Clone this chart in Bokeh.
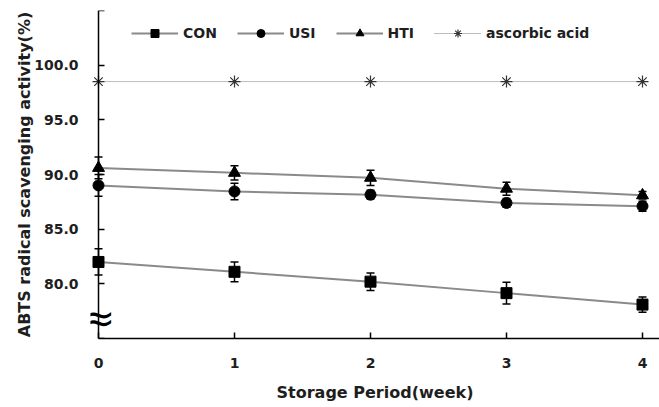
from bokeh.plotting import figure
from bokeh.models import (ColumnDataSource, Range1d, FixedTicker, Whisker, TeeHead,
                          Legend, LegendItem, Label, LinearAxis)
from bokeh.embed import file_html
from bokeh.resources import INLINE

# ---- data ----
weeks = [0, 1, 2, 3, 4]
con = [82.0, 81.1, 80.2, 79.15, 78.1]
con_err = [1.2, 0.9, 0.8, 1.0, 0.7]
usi = [89.0, 88.45, 88.15, 87.4, 87.1]
usi_err = [1.0, 0.75, 0.4, 0.4, 0.45]
hti = [90.6, 90.15, 89.7, 88.7, 88.1]
hti_err = [1.0, 0.65, 0.7, 0.6, 0.35]
ascorbic = [98.5, 98.5, 98.5, 98.5, 98.5]

y_ticks = [75, 80, 85, 90, 95, 100, 105]
y_tick_labels = ["", "80.0", "85.0", "90.0", "95.0", "100.0", ""]
x_ticks = [0, 1, 2, 3, 4]
x_tick_labels = ["0", "1", "2", "3", "4"]
series_names = ["CON", "USI", "HTI", "ascorbic acid"]

FONT = "DejaVu Sans"
TXT = "#1e1e1e"

p = figure(width=659, height=407, output_backend="svg", toolbar_location=None,
           x_range=Range1d(-0.0588, 4.125), y_range=Range1d(75, 105),
           min_border_left=90, min_border_right=0, min_border_top=10, min_border_bottom=69)
p.outline_line_color = None
p.xgrid.visible = False
p.ygrid.visible = False
p.background_fill_color = "white"

# x axis
xa = p.xaxis[0]
xa.bounds = (0, 4.125)
xa.ticker = FixedTicker(ticks=x_ticks)
xa.major_label_overrides = {t: l for t, l in zip(x_ticks, x_tick_labels)}
xa.axis_line_color = "black"
xa.axis_line_width = 1.5
xa.major_tick_line_color = "black"
xa.major_tick_line_width = 1.5
xa.major_tick_in = 6
xa.major_tick_out = 0
xa.minor_tick_line_color = None
xa.major_label_text_font = FONT
xa.major_label_text_font_style = "bold"
xa.major_label_text_color = TXT
xa.major_label_text_font_size = "14px"
xa.major_label_standoff = 19
xa.axis_label = "Storage Period(week)"
xa.axis_label_text_font = FONT
xa.axis_label_text_font_style = "bold"
xa.axis_label_text_color = TXT
xa.axis_label_text_font_size = "16px"
xa.axis_label_standoff = 12

# y axis labels (at frame edge, no line)
ya = p.yaxis[0]
ya.ticker = FixedTicker(ticks=y_ticks)
ya.major_label_overrides = {t: l for t, l in zip(y_ticks, y_tick_labels)}
ya.axis_line_color = None
ya.major_tick_line_color = None
ya.minor_tick_line_color = None
ya.major_tick_in = 0
ya.major_tick_out = 0
ya.major_label_text_font = FONT
ya.major_label_text_font_style = "bold"
ya.major_label_text_color = TXT
ya.major_label_text_font_size = "14px"
ya.major_label_standoff = 12
ya.axis_label = "ABTS radical scavenging activity(%)"
ya.axis_label_text_font = FONT
ya.axis_label_text_font_style = "bold"
ya.axis_label_text_color = TXT
ya.axis_label_text_font_size = "16px"
ya.axis_label_standoff = -3

# y axis line + inward ticks at x = 0
ya2 = LinearAxis(fixed_location=0, ticker=FixedTicker(ticks=y_ticks),
                 major_label_overrides={t: "" for t in y_ticks},
                 axis_line_color="black", axis_line_width=1.5,
                 major_tick_line_color="black", major_tick_line_width=1.5,
                 major_tick_in=6, major_tick_out=0, minor_tick_line_color=None,
                 major_label_standoff=0, major_label_text_font_size="1px")
p.add_layout(ya2, "left")

items = []
specs = [
    (con, con_err, "square", 11),
    (usi, usi_err, "circle", 11),
    (hti, hti_err, "triangle", 12),
]
for name, (vals, errs, marker, size) in zip(series_names[:3], specs):
    src = ColumnDataSource(dict(x=weeks, y=vals,
                                lower=[v - e for v, e in zip(vals, errs)],
                                upper=[v + e for v, e in zip(vals, errs)]))
    lr = p.line("x", "y", source=src, line_color="#8a8a8a", line_width=2)
    w = Whisker(source=src, base="x", lower="lower", upper="upper",
                line_color="black", line_width=1.5,
                lower_head=TeeHead(size=8, line_color="black", line_width=1.5),
                upper_head=TeeHead(size=8, line_color="black", line_width=1.5))
    p.add_layout(w)
    mr = p.scatter("x", "y", source=src, marker=marker, size=size,
                   fill_color="black", line_color="black")
    items.append(LegendItem(label=name, renderers=[lr, mr]))

asrc = ColumnDataSource(dict(x=weeks, y=ascorbic))
alr = p.line("x", "y", source=asrc, line_color="#7a7a7a", line_width=1, line_dash="1 1")
amr = p.scatter("x", "y", source=asrc, marker="asterisk", size=12,
                line_color="#333333", line_width=1.2)
items.append(LegendItem(label=series_names[3], renderers=[alr, amr]))

# axis break symbol
p.add_layout(Label(x=0, y=76.9, text="≈", text_font="DejaVu Sans", text_font_size="40px",
                   text_align="center", text_baseline="middle", text_color="black"))

legend = Legend(items=items, orientation="horizontal", location=(41, 295))
legend.background_fill_alpha = 0
legend.border_line_color = None
legend.padding = 0
legend.margin = 0
legend.spacing = 20
legend.glyph_width = 47
legend.glyph_height = 20
legend.label_standoff = 5
legend.label_text_font = FONT
legend.label_text_font_style = "bold"
legend.label_text_font_size = "14px"
legend.label_text_color = TXT
p.add_layout(legend, "center")

open("out.html", "w").write(file_html(p, INLINE))
